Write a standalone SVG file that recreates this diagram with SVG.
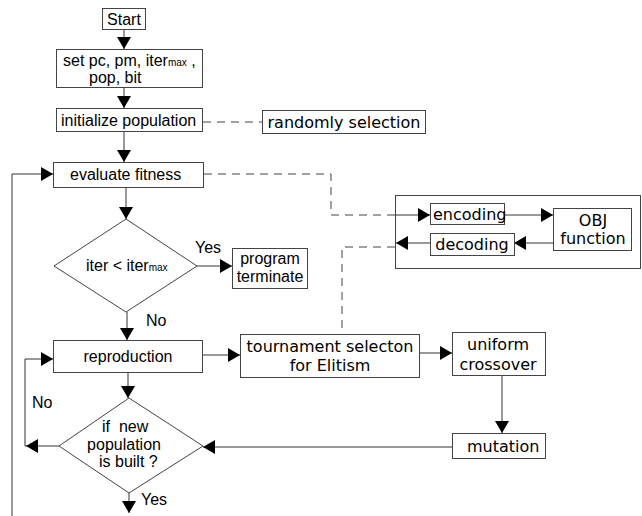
<svg xmlns="http://www.w3.org/2000/svg" width="642" height="516" viewBox="0 0 642 516">
<style>
.box{fill:#fff;stroke:#444;stroke-width:1}
.grp{fill:none;stroke:#444;stroke-width:1}
.ln{fill:none;stroke:#333;stroke-width:1}
.ds{fill:none;stroke:#444;stroke-width:1;stroke-dasharray:8 6}
.a{font-family:"Liberation Sans",Arial,sans-serif;font-size:16px;fill:#000}
.d{font-family:"DejaVu Sans",sans-serif;font-size:16px;fill:#000}
.sub{font-size:10px}
.c{text-anchor:middle}
</style>
<defs>
<marker id="ah" markerUnits="userSpaceOnUse" markerWidth="13" markerHeight="14" refX="12" refY="7" orient="auto">
<path d="M0,0 L12,7 L0,14 z" fill="#000"/>
</marker>
</defs>
<rect width="642" height="516" fill="#fff"/>
<g id="obj-group">
<rect class="grp" x="395.5" y="195.5" width="245" height="73"/>
</g>
<g id="connectors">
<line class="ln" x1="124" y1="29" x2="124" y2="49" marker-end="url(#ah)"/>
<line class="ln" x1="124" y1="87" x2="124" y2="108" marker-end="url(#ah)"/>
<line class="ln" x1="124" y1="131" x2="124" y2="162" marker-end="url(#ah)"/>
<line class="ds" x1="203" y1="122" x2="262" y2="122"/>
<path class="ds" d="M204,174 H331 V215 H395"/>
<line class="ln" x1="395" y1="215" x2="430" y2="215" marker-end="url(#ah)"/>
<line class="ln" x1="504" y1="215" x2="553" y2="215" marker-end="url(#ah)"/>
<line class="ln" x1="553" y1="243" x2="514" y2="243" marker-end="url(#ah)"/>
<line class="ln" x1="430" y1="243" x2="396" y2="243" marker-end="url(#ah)"/>
<path class="ds" d="M395,247 H342 V334"/>
<line class="ln" x1="126" y1="187" x2="126" y2="219" marker-end="url(#ah)"/>
<line class="ln" x1="197" y1="266" x2="232" y2="266" marker-end="url(#ah)"/>
<line class="ln" x1="127" y1="312" x2="127" y2="340" marker-end="url(#ah)"/>
<line class="ln" x1="202" y1="355" x2="240" y2="355" marker-end="url(#ah)"/>
<line class="ln" x1="419" y1="353" x2="452" y2="353" marker-end="url(#ah)"/>
<line class="ln" x1="502" y1="375" x2="502" y2="433" marker-end="url(#ah)"/>
<line class="ln" x1="452" y1="447" x2="203" y2="447" marker-end="url(#ah)"/>
<line class="ln" x1="128" y1="372" x2="128" y2="398" marker-end="url(#ah)"/>
<line class="ln" x1="59" y1="446" x2="26" y2="446" marker-end="url(#ah)"/>
<path class="ln" d="M26,446 H25 V359 H53" marker-end="url(#ah)"/>
<line class="ln" x1="129" y1="493" x2="129" y2="513" marker-end="url(#ah)"/>
<path class="ln" d="M12,516 V174 H53" marker-end="url(#ah)"/>
<text class="a" x="195" y="253">Yes</text>
<text class="a" x="146" y="326">No</text>
<text class="a" x="32" y="408">No</text>
<text class="a" x="141" y="505">Yes</text>
</g>
<g id="start">
<rect class="box" x="102.5" y="8.5" width="43" height="21"/>
<text class="a c" x="124" y="25">Start</text>
</g>
<g id="set-params">
<rect class="box" x="56.5" y="49.5" width="146" height="38"/>
<text class="a" x="63" y="66">set pc, pm, iter<tspan class="sub">max</tspan> ,</text>
<text class="a" x="89" y="83">pop, bit</text>
</g>
<g id="initialize">
<rect class="box" x="56.5" y="108.5" width="146" height="23"/>
<text class="a" x="61" y="126">initialize population</text>
</g>
<g id="random">
<rect class="box" x="262.5" y="110.5" width="163" height="23"/>
<text class="d c" x="344" y="128">randomly selection</text>
</g>
<g id="evaluate">
<rect class="box" x="53.5" y="162.5" width="150" height="25"/>
<text class="a" x="70" y="180">evaluate fitness</text>
</g>
<g id="encoding">
<rect class="box" x="430.5" y="203.5" width="74" height="21"/>
<text class="d" x="433" y="220" font-size="14">encoding</text>
</g>
<g id="decoding">
<rect class="box" x="430.5" y="233.5" width="84" height="22"/>
<text class="d c" x="472" y="250">decoding</text>
</g>
<g id="obj">
<rect class="box" x="553.5" y="208.5" width="78" height="42"/>
<text class="d c" x="593" y="226">OBJ</text>
<text class="d c" x="593" y="244">function</text>
</g>
<g id="check-iter">
<polygon class="box" points="126,219 197,266 126,312 54,266"/>
<text class="a" x="86" y="271">iter &lt; iter<tspan class="sub">max</tspan></text>
</g>
<g id="terminate">
<rect class="box" x="232.5" y="248.5" width="75" height="40"/>
<text class="a c" x="270" y="264">program</text>
<text class="a c" x="270" y="282">terminate</text>
</g>
<g id="reproduction">
<rect class="box" x="53.5" y="340.5" width="149" height="32"/>
<text class="a c" x="128" y="362">reproduction</text>
</g>
<g id="tournament">
<rect class="box" x="240.5" y="334.5" width="179" height="43"/>
<text class="d c" x="330" y="352">tournament selecton</text>
<text class="d c" x="330" y="371">for Elitism</text>
</g>
<g id="crossover">
<rect class="box" x="452.5" y="332.5" width="93" height="43"/>
<text class="d c" x="498" y="350">uniform</text>
<text class="d c" x="498" y="370">crossover</text>
</g>
<g id="mutation">
<rect class="box" x="452.5" y="433.5" width="93" height="25"/>
<text class="d" x="467" y="452">mutation</text>
</g>
<g id="check-built">
<polygon class="box" points="129,398 203,446 129,493 59,446"/>
<text class="a" x="102" y="432">if&#160; new</text>
<text class="a c" x="124" y="450">population</text>
<text class="a" x="99" y="467">is built ?</text>
</g>
</svg>
